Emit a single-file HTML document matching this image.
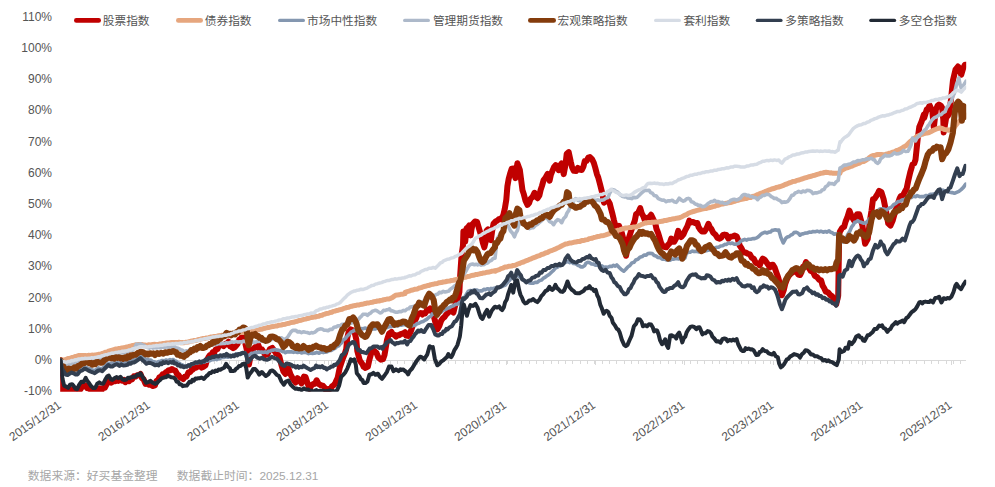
<!DOCTYPE html><html><head><meta charset="utf-8"><title>chart</title><style>html,body{margin:0;padding:0;background:#fff;font-family:"Liberation Sans",sans-serif}svg{display:block}</style></head><body><svg width="995" height="487" viewBox="0 0 995 487">
<rect width="995" height="487" fill="#fff"/>
<path d="M60.0 360.5H966M60.5 360.5v3.5M68.5 360.5v3.5M75.5 360.5v3.5M82.5 360.5v3.5M90.5 360.5v3.5M97.5 360.5v3.5M104.5 360.5v3.5M112.5 360.5v3.5M119.5 360.5v3.5M126.5 360.5v3.5M133.5 360.5v3.5M141.5 360.5v3.5M148.5 360.5v3.5M155.5 360.5v3.5M163.5 360.5v3.5M170.5 360.5v3.5M177.5 360.5v3.5M185.5 360.5v3.5M192.5 360.5v3.5M199.5 360.5v3.5M207.5 360.5v3.5M214.5 360.5v3.5M221.5 360.5v3.5M229.5 360.5v3.5M236.5 360.5v3.5M243.5 360.5v3.5M251.5 360.5v3.5M258.5 360.5v3.5M265.5 360.5v3.5M272.5 360.5v3.5M280.5 360.5v3.5M287.5 360.5v3.5M294.5 360.5v3.5M302.5 360.5v3.5M309.5 360.5v3.5M316.5 360.5v3.5M324.5 360.5v3.5M331.5 360.5v3.5M338.5 360.5v3.5M346.5 360.5v3.5M353.5 360.5v3.5M360.5 360.5v3.5M368.5 360.5v3.5M375.5 360.5v3.5M382.5 360.5v3.5M390.5 360.5v3.5M397.5 360.5v3.5M404.5 360.5v3.5M412.5 360.5v3.5M419.5 360.5v3.5M426.5 360.5v3.5M433.5 360.5v3.5M441.5 360.5v3.5M448.5 360.5v3.5M455.5 360.5v3.5M463.5 360.5v3.5M470.5 360.5v3.5M477.5 360.5v3.5M485.5 360.5v3.5M492.5 360.5v3.5M499.5 360.5v3.5M507.5 360.5v3.5M514.5 360.5v3.5M521.5 360.5v3.5M529.5 360.5v3.5M536.5 360.5v3.5M543.5 360.5v3.5M551.5 360.5v3.5M558.5 360.5v3.5M565.5 360.5v3.5M572.5 360.5v3.5M580.5 360.5v3.5M587.5 360.5v3.5M594.5 360.5v3.5M602.5 360.5v3.5M609.5 360.5v3.5M616.5 360.5v3.5M624.5 360.5v3.5M631.5 360.5v3.5M638.5 360.5v3.5M646.5 360.5v3.5M653.5 360.5v3.5M660.5 360.5v3.5M668.5 360.5v3.5M675.5 360.5v3.5M682.5 360.5v3.5M690.5 360.5v3.5M697.5 360.5v3.5M704.5 360.5v3.5M712.5 360.5v3.5M719.5 360.5v3.5M726.5 360.5v3.5M733.5 360.5v3.5M741.5 360.5v3.5M748.5 360.5v3.5M755.5 360.5v3.5M763.5 360.5v3.5M770.5 360.5v3.5M777.5 360.5v3.5M785.5 360.5v3.5M792.5 360.5v3.5M799.5 360.5v3.5M807.5 360.5v3.5M814.5 360.5v3.5M821.5 360.5v3.5M829.5 360.5v3.5M836.5 360.5v3.5M843.5 360.5v3.5M851.5 360.5v3.5M858.5 360.5v3.5M865.5 360.5v3.5M872.5 360.5v3.5M880.5 360.5v3.5M887.5 360.5v3.5M894.5 360.5v3.5M902.5 360.5v3.5M909.5 360.5v3.5M916.5 360.5v3.5M924.5 360.5v3.5M931.5 360.5v3.5M938.5 360.5v3.5M946.5 360.5v3.5M953.5 360.5v3.5M960.5 360.5v3.5M60.5 360.5v4.5M149.5 360.5v4.5M238.5 360.5v4.5M328.5 360.5v4.5M417.5 360.5v4.5M506.5 360.5v4.5M595.5 360.5v4.5M684.5 360.5v4.5M773.5 360.5v4.5M862.5 360.5v4.5M951.5 360.5v4.5" stroke="#d9d9d9" stroke-width="1" fill="none"/>
<defs><clipPath id="pc"><rect x="60.2" y="17.4" width="906" height="374.4"/></clipPath></defs>
<g clip-path="url(#pc)" fill="none" stroke-linejoin="round" stroke-linecap="round">
<path d="M60.5 360.3L60.8 375.4L61.2 389.3L62.9 390.6L65.1 390.2L66.8 390.6L68.1 389.6L70.1 389.8L71.8 389.6L73.2 391.7L75.1 390.4L76.7 391.4L78.2 389.1L80.2 389.5L82.3 386.3L84.2 385.3L85.7 385.6L87.2 388.3L88.9 388.4L91.0 390.2L93.2 390.2L94.6 390.9L96.9 389.0L98.3 389.7L99.6 388.4L101.8 389.7L103.3 388.0L104.8 387.8L106.3 384.9L108.3 380.5L110.0 381.1L111.3 382.7L113.2 381.3L115.4 381.3L117.2 379.8L118.6 380.8L120.4 379.3L122.0 380.7L123.8 379.9L125.4 382.2L126.8 380.4L129.0 381.3L130.5 379.2L132.0 379.4L133.9 376.3L135.5 376.6L137.1 375.3L139.0 375.3L140.5 374.0L141.9 378.0L143.5 379.2L145.5 383.9L147.0 383.7L149.2 384.8L150.6 384.5L152.5 386.0L155.0 385.3L155.2 383.7L156.6 381.0L158.2 379.8L159.5 377.2L161.2 376.5L162.7 374.3L164.2 374.9L165.8 372.3L167.2 371.7L168.7 370.2L170.2 370.2L171.9 369.0L173.3 370.0L175.3 370.7L177.3 374.5L178.7 375.2L180.3 377.8L181.5 377.7L183.3 379.0L184.7 376.8L186.3 376.8L188.4 372.5L190.1 372.1L191.4 370.2L192.9 369.5L194.4 367.6L196.0 367.8L197.4 366.6L199.2 366.4L200.4 365.2L201.7 367.6L203.4 366.8L205.5 365.3L207.0 360.0L208.5 357.0L210.1 354.9L211.5 354.6L212.9 351.9L214.5 352.1L215.8 349.4L217.5 349.1L218.9 345.9L220.5 345.1L221.9 344.7L223.6 346.0L225.4 343.9L226.6 344.5L228.6 341.6L230.0 346.1L230.1 344.7L231.6 347.1L233.1 348.2L234.5 347.4L236.1 345.7L237.5 343.9L239.1 339.7L240.4 339.1L242.2 336.4L244.2 337.7L245.7 345.1L247.2 351.5L249.0 364.5L250.2 357.7L251.2 350.0L253.2 349.1L255.2 347.0L256.5 347.3L258.3 345.1L260.3 350.0L261.8 349.3L263.3 351.4L265.3 355.0L267.3 354.4L269.8 349.2L272.3 347.9L274.4 350.8L276.0 353.4L277.4 354.0L279.4 356.6L281.4 364.9L283.4 371.5L285.4 374.0L286.9 369.4L288.4 368.2L290.5 374.4L293.0 379.0L295.5 382.5L297.5 378.2L299.5 380.2L301.5 383.4L304.0 376.6L305.5 376.9L307.6 383.5L309.6 388.8L311.6 385.3L313.4 384.0L315.0 383.7L316.6 380.3L318.6 383.9L320.6 385.1L323.1 385.9L325.1 388.2L326.6 391.7L329.1 388.8L330.6 388.8L332.2 386.1L333.9 385.2L335.2 383.1L337.7 377.7L339.7 367.8L342.2 360.2L344.7 354.0L346.2 349.2L347.3 337.9L348.8 331.5L350.8 329.4L352.8 330.3L354.8 333.1L356.3 339.5L357.3 350.9L359.8 360.5L362.3 364.0L363.7 366.8L365.4 367.9L367.9 366.6L369.4 359.7L371.4 352.4L372.6 350.6L374.4 351.0L376.4 352.7L378.4 357.5L381.0 359.7L383.0 359.2L384.5 354.9L385.5 349.3L387.0 340.0L389.0 333.8L391.5 332.0L392.9 334.4L394.5 334.9L396.1 336.6L397.6 335.3L399.2 335.3L400.6 334.1L403.0 333.5L405.0 332.2L406.1 335.6L408.6 335.9L411.1 330.6L413.6 323.0L416.1 318.3L417.6 314.4L419.1 313.6L420.7 313.0L422.2 314.5L423.8 313.0L425.2 313.4L427.2 309.7L428.8 310.5L430.2 308.4L432.7 311.4L434.7 319.9L437.3 329.4L439.3 326.0L441.3 320.3L443.0 318.2L444.3 317.2L446.1 314.6L447.3 313.5L448.8 311.5L450.3 311.5L451.7 311.0L453.4 312.5L455.4 304.6L457.9 298.2L459.4 291.9L460.2 274.9L461.6 254.7L463.0 245.1L463.4 231.4L464.4 236.0L465.2 241.8L465.9 235.3L466.6 228.3L468.1 227.3L469.2 225.4L470.0 230.3L470.7 235.4L471.4 229.8L472.5 224.3L475.0 221.5L477.1 222.0L479.1 228.8L481.2 235.6L482.8 242.7L484.3 247.4L485.8 241.2L486.6 230.6L487.9 229.4L489.4 238.9L490.9 240.1L492.2 230.6L493.5 223.8L495.6 221.4L497.1 220.7L499.3 218.9L501.2 219.2L503.3 215.1L504.8 208.7L506.3 199.7L507.4 186.3L508.7 178.7L510.4 172.6L511.7 168.8L513.4 168.6L515.4 178.1L517.4 163.2L519.8 169.7L522.5 190.3L523.9 194.4L525.5 200.7L527.5 204.9L529.2 202.8L530.5 198.9L532.5 197.0L534.5 192.8L535.8 196.4L537.6 198.2L539.4 195.4L540.6 190.0L542.0 185.9L543.6 180.1L545.4 177.9L547.6 173.8L549.6 180.6L550.9 174.7L552.6 170.4L554.0 167.2L555.7 165.1L557.2 166.4L558.7 170.2L560.3 165.3L561.7 163.4L563.7 174.1L565.5 164.7L566.7 153.8L568.7 152.2L570.8 162.0L572.1 167.4L573.8 170.8L576.1 170.9L577.8 167.9L580.0 169.8L581.8 169.9L583.5 166.4L584.8 160.9L586.6 160.9L588.3 157.6L589.9 157.1L592.2 159.4L593.9 163.1L595.2 167.5L596.9 174.1L598.3 177.7L599.9 183.7L601.9 191.8L604.0 202.7L605.8 200.9L608.0 200.4L609.8 203.7L611.0 208.4L612.5 214.1L614.0 220.4L616.0 228.0L617.3 228.6L619.0 225.9L621.7 232.6L623.7 240.4L624.9 248.8L626.1 255.8L627.3 248.8L628.5 239.1L630.5 232.8L633.1 225.2L634.8 220.6L636.1 214.1L638.2 212.6L640.2 208.1L641.8 213.5L643.2 215.9L645.0 220.8L647.1 217.9L649.1 217.3L651.1 214.8L653.3 219.4L655.1 222.7L656.5 229.0L658.1 232.9L659.9 238.8L661.1 243.0L662.8 246.2L664.1 246.9L666.2 247.3L668.2 244.7L669.8 242.9L671.2 238.7L672.6 241.7L674.2 241.8L676.4 237.8L678.2 230.9L679.9 234.7L681.2 237.0L683.5 234.3L685.3 230.1L687.4 226.3L689.3 220.7L691.2 222.4L693.3 221.9L695.3 223.2L697.3 222.9L698.6 227.1L700.4 229.9L702.1 231.5L704.4 231.6L706.5 228.4L708.4 223.8L710.0 227.5L711.4 228.9L713.2 232.8L715.5 234.7L717.5 238.0L719.5 238.7L721.1 237.7L723.0 234.9L724.5 234.6L726.4 235.0L728.5 238.7L730.6 236.7L732.6 236.4L734.7 235.5L736.6 236.2L738.0 239.6L739.6 245.4L741.4 248.2L743.6 252.5L745.4 252.4L747.6 253.7L749.9 254.3L751.7 257.7L753.8 258.9L755.7 262.8L757.8 263.4L759.7 265.3L761.2 261.4L762.7 258.6L764.5 259.6L766.8 262.8L768.0 264.5L769.8 267.4L771.3 265.0L772.8 264.7L774.7 267.7L776.8 273.7L778.1 277.3L779.8 283.4L781.9 295.3L783.9 289.7L785.3 283.6L786.9 279.4L788.7 275.9L790.9 273.5L793.1 272.0L794.9 271.5L796.9 271.8L798.2 274.6L800.0 275.0L801.5 272.1L803.0 266.8L804.5 266.1L806.0 262.1L807.5 266.3L809.0 268.2L810.7 270.9L813.0 272.0L814.9 275.8L817.1 277.1L819.3 280.0L821.1 280.2L822.6 285.6L824.1 288.0L825.8 291.6L828.1 292.3L830.3 295.1L832.2 296.3L834.0 301.5L836.2 304.2L838.2 295.8L839.2 234.8L839.9 231.6L842.2 227.9L844.1 226.9L845.7 221.3L847.2 217.8L849.4 210.5L851.7 216.5L854.0 220.5L855.5 218.1L857.0 214.3L859.3 214.3L860.7 219.2L862.4 225.5L865.1 243.8L867.7 239.1L870.0 220.3L871.5 210.6L873.0 199.1L874.6 198.8L876.0 196.5L877.5 194.2L879.1 190.9L881.4 192.2L883.6 199.2L885.9 210.5L888.2 223.4L890.5 225.6L892.8 220.3L895.0 212.1L897.3 205.3L899.6 198.4L900.9 195.9L902.6 196.1L904.9 191.7L906.7 188.4L907.9 182.3L910.2 172.4L912.5 164.5L914.3 163.3L915.5 159.7L917.8 137.9L919.3 127.0L921.6 121.5L923.9 114.5L924.2 117.9L926.7 109.5L928.0 108.6L929.7 105.3L932.4 111.7L933.8 127.7L935.9 109.6L937.5 105.8L939.0 104.5L940.7 105.5L942.1 107.6L943.3 119.4L943.7 132.5L946.2 117.5L947.7 115.9L949.2 113.4L950.6 103.0L951.7 92.5L953.0 80.1L955.5 69.7L958.0 66.5L959.6 68.4L961.2 74.8L962.9 69.1L964.9 64.7L966.0 64.7" stroke="#C00000" stroke-width="6.0"/>
<path d="M60.5 360.4L62.9 360.1L65.1 359.6L66.6 359.3L68.1 358.5L70.1 358.3L71.9 357.5L73.5 357.3L75.1 356.6L76.7 356.4L78.6 355.6L80.2 355.4L81.6 355.4L83.2 355.6L85.2 355.6L86.9 355.7L88.3 355.3L90.2 355.5L91.9 355.1L93.8 355.2L95.2 354.9L96.6 354.8L98.4 354.3L100.3 354.3L102.1 353.5L103.5 353.1L105.3 352.3L107.2 351.9L108.8 351.1L110.3 350.6L112.1 350.1L113.6 349.8L115.4 349.1L117.0 349.1L119.0 348.5L120.4 348.4L122.0 347.9L123.7 347.8L125.4 347.3L127.0 347.1L128.7 346.5L130.5 346.2L132.2 345.5L134.0 345.4L135.5 344.8L137.2 344.9L138.6 344.4L140.5 344.4L142.3 344.6L143.6 344.9L145.5 345.1L147.4 345.2L149.0 344.8L150.6 344.9L152.8 344.4L155.0 344.2L155.2 344.7L157.3 344.6L159.2 344.1L161.3 344.0L163.4 343.4L165.2 343.3L167.0 342.9L169.0 342.9L171.4 342.6L173.3 342.5L175.2 342.4L176.9 342.6L178.9 342.3L180.8 342.7L182.2 342.5L184.3 342.7L186.1 342.2L188.1 342.0L190.4 341.3L192.3 341.1L194.2 340.5L196.7 340.3L198.4 339.5L200.4 339.2L202.5 338.6L204.7 338.6L206.6 337.9L208.6 337.7L210.5 337.1L212.2 336.9L214.2 336.5L216.6 336.4L218.8 335.7L220.5 335.6L222.1 335.2L224.5 335.2L226.4 334.7L227.8 334.7L230.0 334.3L231.4 334.1L233.3 333.4L235.1 333.0L237.3 332.7L239.2 332.8L241.0 332.4L243.0 332.4L245.2 332.1L247.1 332.2L248.7 331.9L250.2 332.0L251.6 331.4L253.6 331.2L255.2 330.6L257.5 330.2L259.0 329.6L261.3 329.3L263.2 328.6L265.3 328.2L267.5 327.6L269.1 327.5L271.1 326.8L273.1 326.6L275.4 326.1L277.2 325.9L279.1 325.2L281.3 325.0L283.5 324.4L285.4 324.2L287.4 323.5L289.3 323.2L291.2 322.5L293.4 322.3L295.5 321.6L297.4 321.2L299.5 320.4L301.3 320.2L303.7 319.4L305.5 319.1L307.5 318.4L309.1 318.2L311.2 317.5L313.3 317.2L315.0 316.5L315.1 317.1L316.5 316.5L318.7 316.3L320.1 315.5L322.1 315.2L323.6 314.4L325.1 314.1L326.5 313.4L328.5 313.2L330.2 312.5L331.8 312.2L333.3 311.4L335.2 311.1L336.7 310.4L338.3 310.2L340.2 309.6L342.1 309.2L343.7 308.4L345.2 308.1L347.0 307.4L348.8 307.2L350.3 306.5L351.8 306.3L353.7 305.7L355.3 305.6L356.9 305.0L358.6 305.1L360.3 304.5L362.1 304.3L363.9 303.8L365.4 303.6L366.9 303.0L368.9 303.0L370.4 302.5L372.3 302.3L373.9 301.7L375.4 301.6L377.4 301.0L378.9 301.0L380.5 300.5L382.1 300.3L383.7 299.7L385.5 299.5L386.9 299.0L389.0 299.0L390.5 298.4L392.5 297.5L394.0 296.3L395.5 295.3L397.6 294.9L399.2 294.8L401.4 294.2L403.1 294.2L405.0 293.7L405.1 292.3L407.1 291.6L409.1 291.1L411.1 290.3L412.9 290.0L415.1 289.2L417.3 288.9L419.2 288.0L421.2 287.6L423.3 286.7L425.2 286.3L427.4 285.6L429.0 285.4L430.9 284.6L433.0 284.3L435.2 283.7L437.4 283.4L439.4 282.7L441.3 282.6L443.2 282.0L445.3 281.7L447.3 281.2L449.5 281.1L451.5 280.4L453.4 280.2L455.4 279.7L457.5 279.3L459.6 278.6L461.2 278.3L463.6 277.5L465.4 277.3L467.7 276.5L469.7 276.2L471.4 275.5L473.3 275.3L475.5 274.6L477.5 274.4L479.7 273.8L481.4 273.6L483.6 272.9L485.5 272.7L487.4 272.2L489.5 272.0L491.5 271.3L492.9 271.1L495.0 270.6L495.1 271.3L496.8 270.3L499.3 269.6L501.0 268.6L503.1 268.1L505.1 267.1L507.0 266.9L509.2 266.2L511.4 266.1L513.3 265.4L515.2 265.2L517.3 264.2L519.1 263.7L521.2 262.6L523.5 262.0L525.2 261.1L527.2 260.4L529.3 259.4L531.2 258.8L533.3 257.8L535.3 257.1L537.6 256.2L539.5 255.7L541.5 254.5L543.5 254.0L545.4 253.0L547.7 252.3L549.2 251.3L551.3 250.7L553.7 249.7L555.4 249.1L557.4 248.0L559.4 247.2L561.5 246.0L563.4 245.1L565.5 244.0L567.6 243.7L569.4 243.1L571.6 242.9L573.7 242.3L575.5 242.1L577.7 241.5L579.9 241.4L581.7 240.6L583.9 240.5L585.6 239.9L587.7 239.6L589.7 238.6L591.8 238.3L593.9 237.5L595.7 237.1L597.8 236.5L599.8 236.2L601.6 235.7L603.9 235.4L605.7 234.9L607.9 234.2L609.9 233.3L611.8 232.7L613.8 231.6L615.8 231.0L617.7 230.3L619.9 229.9L622.1 229.0L623.7 228.7L625.8 227.9L627.7 227.9L629.8 227.4L631.7 227.4L633.8 226.9L635.9 226.9L638.0 225.9L639.7 225.4L641.5 224.4L643.1 223.9L645.0 222.8L646.5 222.9L648.4 222.5L650.1 222.6L652.1 222.2L654.3 222.2L655.8 221.9L658.3 221.9L660.1 221.5L662.2 221.3L664.1 220.6L666.0 220.5L668.4 219.8L670.2 219.6L672.0 219.0L674.2 218.8L676.5 218.2L678.2 218.1L680.2 217.5L682.1 216.7L684.3 215.4L686.5 214.6L688.4 213.3L690.3 212.5L692.3 211.8L694.5 211.3L696.2 210.6L698.2 210.1L700.4 209.5L702.1 209.1L704.5 208.5L706.6 208.4L708.7 207.7L710.4 207.5L712.3 206.8L714.4 206.4L716.2 205.5L718.5 205.2L720.5 204.4L722.6 204.1L724.4 203.6L726.4 203.3L728.5 202.7L730.5 202.5L732.8 201.8L734.5 201.4L736.5 200.5L738.5 200.2L740.6 199.4L742.9 199.1L744.8 198.5L746.9 198.4L748.4 197.6L750.7 197.5L752.5 196.4L754.8 195.9L756.8 194.9L758.4 194.3L760.7 193.3L762.8 192.6L764.8 191.7L767.0 191.0L768.6 190.1L770.8 189.4L772.7 188.7L774.7 188.2L776.6 187.4L778.6 187.0L780.8 186.3L782.8 185.7L785.1 184.5L786.9 184.0L789.0 183.0L790.9 182.4L792.8 181.5L795.2 181.3L796.9 180.4L799.1 180.0L801.0 179.2L802.8 178.8L805.0 177.9L806.9 177.5L809.1 176.7L811.0 176.3L813.2 175.5L815.0 175.2L817.3 174.4L819.1 173.9L821.1 173.2L822.9 173.0L824.5 172.5L826.1 172.3L827.6 172.4L829.6 172.9L831.4 172.8L833.2 173.3L835.5 173.2L838.0 173.3L840.0 173.3L840.5 171.0L842.6 169.8L844.1 169.0L845.9 168.1L848.2 167.5L850.2 166.6L852.3 166.0L854.1 165.1L855.9 164.5L857.8 163.6L859.7 163.0L861.3 161.9L863.6 161.5L865.4 160.5L867.6 159.2L869.4 157.5L871.5 156.1L873.6 155.4L875.3 155.2L877.6 154.5L879.3 154.6L881.3 154.4L883.2 154.7L885.2 154.5L887.1 154.0L889.0 153.3L890.9 152.9L892.8 152.2L894.8 151.6L896.3 150.7L898.2 150.0L900.3 149.1L902.3 148.0L904.3 146.6L906.4 145.5L908.6 143.1L911.0 140.9L913.3 139.2L914.9 137.9L917.1 136.3L918.9 135.6L920.9 134.7L923.1 134.0L925.1 133.3L927.0 133.1L929.2 132.5L931.1 131.6L933.2 130.3L935.3 129.5L937.6 128.5L939.9 128.0L942.3 128.5L944.4 129.5L946.6 129.7L949.0 130.3L951.4 129.3L953.5 128.7L955.7 125.4L958.0 122.5L960.4 120.3L962.9 118.4L964.6 116.5L966.0 115.1" stroke="#E6A67E" stroke-width="5.0"/>
<path d="M60.5 360.3L62.0 366.9L63.6 370.1L65.6 372.3L67.4 371.4L69.6 371.8L71.7 371.1L73.6 371.4L75.4 370.8L77.6 371.8L79.6 369.5L81.1 369.1L83.2 367.7L84.7 367.3L86.8 367.6L88.3 368.8L90.2 368.9L92.4 370.1L94.7 370.5L96.3 369.7L98.3 367.9L100.1 368.6L102.3 368.5L104.6 366.8L106.3 364.6L108.3 363.3L110.3 363.4L112.3 363.3L114.4 362.6L116.2 363.0L117.8 362.8L119.4 363.3L121.2 362.6L123.5 362.8L125.4 362.0L127.3 362.2L129.1 361.1L130.5 361.3L132.0 360.0L133.9 359.9L135.5 359.0L138.0 357.1L140.5 355.5L142.5 357.8L143.8 358.1L145.5 359.6L147.0 359.2L148.8 360.1L150.6 360.0L152.8 361.6L155.0 362.0L157.2 363.1L158.4 361.6L160.2 361.5L162.3 360.5L164.2 360.8L166.2 360.0L168.1 360.6L170.0 359.5L171.4 360.3L173.3 359.5L174.5 360.7L176.3 361.3L177.8 362.8L179.3 363.2L181.0 364.6L182.3 364.7L183.6 366.0L185.3 365.9L187.0 366.2L188.4 364.9L190.2 365.1L191.4 364.0L193.2 364.0L195.4 362.7L197.4 363.2L198.7 362.0L200.4 362.5L202.3 361.6L204.1 362.3L205.5 361.1L207.2 361.3L208.5 360.5L209.9 360.7L211.7 359.7L213.5 359.7L214.9 359.1L216.6 359.6L218.5 358.5L220.0 358.6L221.7 357.3L223.6 357.5L225.8 356.7L228.0 357.3L230.0 356.4L231.7 356.3L233.6 354.7L235.1 354.5L236.9 353.7L239.2 354.3L240.7 353.1L242.8 353.4L244.7 352.7L246.7 357.2L248.2 355.5L249.7 355.0L251.2 353.4L253.3 353.4L255.2 352.3L256.7 352.7L258.8 351.9L260.3 352.3L261.6 352.0L263.3 352.5L265.1 351.9L267.3 352.7L268.6 351.3L270.3 351.0L271.6 350.2L273.4 350.1L274.7 349.6L276.4 350.1L277.6 350.0L279.4 350.6L280.8 350.5L282.4 351.6L284.1 351.4L285.4 352.7L287.4 351.7L289.4 351.9L291.5 351.8L293.5 352.4L295.2 351.8L297.5 352.5L299.7 351.9L301.5 352.9L303.3 352.5L305.5 352.5L307.0 352.8L308.6 353.6L310.7 352.9L312.6 353.4L315.0 353.0L315.1 353.1L316.8 352.4L319.1 353.2L321.1 352.1L323.3 352.6L325.1 352.1L326.9 351.9L329.4 350.6L331.2 350.5L333.2 349.2L335.4 348.1L337.2 346.3L338.9 345.7L340.2 344.0L341.8 342.6L343.2 340.0L345.5 338.5L347.3 336.0L349.1 334.4L351.3 331.9L352.8 331.4L354.3 330.1L356.4 330.4L358.3 329.9L359.9 329.7L361.3 328.6L363.1 328.7L365.4 328.0L367.6 329.2L369.4 329.0L371.4 329.4L373.4 328.6L375.4 328.9L377.4 327.8L379.7 328.3L381.3 327.4L383.5 327.7L385.2 326.8L387.3 327.4L389.0 326.3L390.5 326.8L392.5 325.8L393.8 326.2L395.5 325.6L397.3 326.0L399.4 325.0L401.6 325.2L403.1 324.5L405.0 324.7L406.2 325.2L408.1 326.3L409.5 325.5L411.2 326.2L413.1 325.6L415.3 325.2L417.1 323.6L418.9 323.3L421.2 322.0L423.1 321.6L425.2 320.1L427.1 319.1L429.2 317.0L430.9 316.1L432.2 313.9L433.8 314.2L436.0 312.8L437.4 313.6L439.3 312.4L441.4 311.9L443.3 310.0L445.1 309.8L447.3 308.4L449.3 307.8L451.3 306.4L453.5 305.8L455.4 304.4L457.4 304.2L459.4 302.5L461.4 301.7L463.6 298.3L465.4 296.1L466.9 293.4L468.4 291.1L470.4 290.5L471.7 291.1L473.7 290.0L475.5 290.0L477.0 290.0L478.6 291.0L480.5 290.9L482.0 290.9L483.8 289.4L485.5 289.6L487.6 288.7L489.5 289.5L491.0 288.4L492.8 288.8L495.0 288.0L497.1 288.5L498.8 287.0L501.1 287.0L503.3 285.8L505.1 285.3L507.4 282.5L509.1 280.8L511.2 278.1L513.4 277.7L515.3 276.1L517.2 275.4L519.1 276.5L521.2 278.5L523.0 279.4L525.2 281.3L527.5 281.7L529.2 282.9L531.3 283.1L533.4 283.3L535.2 282.3L537.3 282.4L539.1 280.8L541.4 280.1L543.4 278.2L545.1 277.3L547.6 275.4L549.4 274.2L551.7 272.0L553.5 270.4L555.4 268.1L557.5 267.2L559.4 265.4L561.7 265.1L563.8 263.1L565.5 262.4L567.6 261.5L569.8 262.6L571.5 261.9L573.5 263.5L575.8 263.8L577.6 265.2L579.3 265.7L580.7 266.9L582.6 266.9L584.5 265.8L586.0 263.2L587.6 262.3L589.6 262.6L591.5 264.0L593.7 264.1L595.5 265.2L597.7 265.0L599.7 266.3L601.9 265.9L603.5 267.4L605.7 267.0L608.0 267.2L609.8 266.2L611.8 266.4L613.5 265.3L615.2 266.1L616.8 264.9L619.0 267.3L620.8 269.1L622.4 270.3L623.8 271.2L625.8 269.3L627.9 266.9L629.9 265.5L631.9 262.9L634.1 262.2L635.7 260.0L637.9 259.3L639.9 257.2L642.2 256.6L644.0 255.0L646.2 255.1L647.9 253.5L650.0 253.2L652.2 253.5L654.1 255.5L656.0 255.9L657.7 257.4L660.3 257.7L662.1 259.1L664.1 258.9L666.3 259.9L668.1 260.0L670.0 260.3L672.0 259.0L674.1 259.1L676.2 258.6L678.5 259.0L680.7 258.3L682.9 258.7L685.0 258.0L686.3 253.5L688.5 252.2L690.2 252.2L692.3 251.0L694.1 251.6L696.4 251.2L698.4 251.9L700.4 251.4L702.1 251.5L704.6 250.4L706.3 250.8L708.4 250.1L710.2 250.0L712.5 248.5L714.4 248.4L716.5 247.2L718.6 247.2L720.5 246.0L722.6 245.8L724.7 244.4L726.3 244.5L728.5 243.1L730.5 243.6L732.3 243.1L734.4 244.3L736.6 244.1L738.7 243.3L740.9 241.1L742.6 240.2L744.7 239.4L746.6 240.1L748.5 239.2L750.7 239.3L752.7 238.6L754.7 238.6L756.7 237.9L758.4 236.7L760.9 234.2L762.7 233.1L765.0 232.2L766.9 233.0L768.8 232.1L770.5 232.0L772.0 230.4L773.8 230.1L775.5 229.7L777.4 230.4L778.8 230.0L780.8 237.3L783.3 243.0L785.9 238.2L787.4 237.0L789.2 236.5L790.9 235.0L792.3 234.6L794.0 232.6L795.9 232.2L798.1 233.1L800.0 235.2L801.6 234.0L803.1 233.9L805.0 233.1L807.2 233.0L809.2 232.1L811.0 232.3L813.0 231.5L815.3 231.7L817.1 231.1L819.3 231.9L820.8 231.2L823.1 232.2L825.4 231.5L826.8 232.1L829.1 230.9L830.8 232.3L832.2 232.7L834.2 234.3L836.4 233.7L838.2 234.3L839.6 241.6L841.7 242.0L844.1 241.7L846.0 238.5L848.0 234.1L849.8 231.2L851.7 226.8L853.3 224.8L854.8 222.2L856.1 221.9L857.8 220.7L859.3 221.7L860.8 222.1L863.3 223.2L865.4 222.9L867.1 221.9L869.2 219.0L871.2 218.5L873.0 216.2L875.1 214.5L877.2 211.1L879.1 209.6L880.4 208.7L882.1 208.7L884.7 209.3L886.7 210.2L889.0 208.1L891.2 207.4L893.6 204.7L895.8 203.5L897.9 201.6L900.3 201.2L902.1 199.8L903.9 199.9L906.1 198.1L907.9 198.0L909.8 197.0L911.3 197.6L913.1 196.1L915.5 196.7L917.1 195.6L919.6 196.7L921.6 196.5L923.6 196.6L926.2 195.5L927.9 195.9L930.4 194.2L932.3 194.4L934.5 193.8L936.4 194.1L938.3 193.3L940.5 192.5L942.9 190.2L945.1 191.3L947.5 190.9L949.9 192.3L952.0 192.6L954.4 193.3L956.6 192.4L958.9 191.4L961.1 189.6L963.4 187.4L965.7 184.1" stroke="#8497B0" stroke-width="3.6"/>
<path d="M60.5 360.4L62.6 362.3L65.1 363.1L67.0 364.1L68.2 363.4L70.1 364.5L71.6 363.2L73.5 363.6L75.1 362.7L76.7 362.5L78.7 361.1L80.2 361.3L81.6 360.4L83.7 361.1L85.2 360.2L87.3 360.2L89.4 359.7L91.3 359.9L93.1 358.8L95.2 359.5L97.0 358.1L99.0 358.7L101.3 357.4L103.5 357.6L105.3 356.7L107.5 356.8L109.3 355.3L111.4 355.4L113.3 354.5L115.4 354.4L117.5 353.3L119.4 353.6L121.5 352.4L123.4 352.9L125.4 352.2L127.6 352.1L129.6 350.0L131.7 350.5L133.5 349.0L135.0 347.0L136.5 344.1L138.5 344.7L140.5 343.9L142.6 345.1L144.5 345.6L146.1 347.0L147.6 347.5L149.3 348.1L151.3 347.0L152.9 348.1L155.0 347.5L156.9 347.9L158.4 347.2L160.2 347.9L162.2 347.0L164.2 347.5L166.1 346.8L168.4 347.5L170.2 346.6L172.0 347.4L174.3 346.6L176.2 347.9L178.3 348.2L180.6 349.6L182.3 350.2L184.8 352.1L186.4 350.7L188.7 350.7L190.4 349.1L192.5 349.1L194.4 347.8L196.7 348.2L198.2 346.9L200.4 347.0L202.6 346.3L204.6 346.6L206.5 345.2L208.3 345.8L210.5 345.1L212.4 345.3L214.5 344.2L216.7 344.5L218.4 343.6L220.5 343.8L222.7 343.4L224.6 343.5L226.2 342.8L228.0 343.1L230.0 342.5L230.1 342.5L231.9 341.8L233.9 342.3L236.1 341.4L238.0 342.1L240.2 341.7L241.8 342.1L243.4 341.1L245.2 341.5L246.8 342.6L248.2 345.5L250.0 343.6L251.2 342.9L253.5 341.9L255.1 342.5L257.3 341.2L259.1 341.4L261.2 340.3L263.2 341.2L265.3 339.9L267.1 340.4L269.1 339.3L271.3 339.5L273.4 338.7L275.2 339.2L277.3 337.6L279.4 338.1L281.7 337.8L283.4 339.3L285.4 338.9L286.9 338.0L288.4 336.0L291.0 331.9L292.8 330.2L294.5 330.4L295.9 330.4L297.5 331.9L299.5 331.6L301.5 332.6L303.6 331.8L305.5 332.2L307.3 332.5L309.6 333.4L311.5 332.6L313.0 332.9L315.0 332.1L316.1 331.2L318.1 329.4L320.1 328.9L322.2 329.0L324.1 330.2L325.9 330.3L328.1 330.8L330.2 329.2L332.2 329.4L334.0 327.2L336.2 326.9L337.9 325.9L340.2 325.8L341.9 324.3L343.2 324.4L345.2 323.6L347.3 323.7L349.3 322.5L351.4 323.1L353.3 322.1L354.9 321.7L356.8 320.1L358.3 319.7L360.1 317.4L361.3 316.3L362.9 314.4L364.4 314.2L366.0 314.3L367.4 315.3L369.1 313.8L370.4 313.3L372.4 311.2L374.4 310.6L375.9 310.2L377.4 311.1L379.9 312.9L381.8 312.4L383.5 310.4L385.3 310.5L386.5 309.9L387.8 309.8L389.5 308.8L390.9 310.7L392.5 310.9L394.3 311.7L395.5 312.1L397.3 312.2L399.6 311.6L401.5 311.6L403.3 310.4L405.0 310.8L407.1 309.0L408.7 308.8L410.1 307.0L412.0 306.9L414.1 306.1L416.1 305.2L417.8 303.6L419.7 303.5L421.5 301.8L423.3 301.4L425.2 299.9L426.9 299.7L429.1 298.0L430.8 297.9L432.7 296.1L434.2 295.8L436.2 294.5L437.9 294.1L439.3 292.4L441.3 292.6L443.3 291.4L445.0 292.0L447.3 291.4L448.8 291.1L450.3 289.2L452.2 288.0L454.4 286.1L456.7 284.7L458.4 281.5L460.4 280.1L462.3 276.9L463.5 274.9L465.4 272.1L467.4 268.4L469.1 265.6L470.5 264.4L472.6 264.0L474.5 264.8L476.3 264.2L477.7 264.9L479.5 264.1L481.2 265.1L482.5 264.6L484.1 264.6L485.5 263.5L487.6 262.9L489.6 261.1L491.5 260.3L493.1 258.5L495.0 258.3L497.3 238.3L499.1 235.9L501.1 232.5L503.2 230.4L505.6 227.1L507.4 224.4L508.7 227.0L510.4 230.7L512.6 233.2L514.4 236.8L515.8 233.1L517.4 230.5L519.4 222.2L521.5 224.1L523.7 224.5L525.8 226.6L527.8 226.6L529.5 228.7L531.4 227.8L533.5 227.6L535.5 225.3L537.4 224.4L539.7 222.2L541.3 221.0L543.7 218.7L545.6 217.5L547.6 218.8L549.6 221.6L551.8 222.5L553.7 224.7L555.5 221.6L557.7 219.6L559.6 220.4L561.7 222.7L563.5 218.8L565.7 216.5L567.0 213.0L568.7 210.6L570.8 205.2L572.6 203.4L574.0 200.1L575.8 198.5L577.8 200.2L579.8 200.8L582.1 199.9L584.1 200.8L585.7 199.6L588.0 200.9L589.9 200.2L591.9 200.9L593.8 200.0L595.6 200.5L598.2 199.8L599.9 200.6L601.9 200.1L603.7 199.8L606.1 198.1L608.0 197.5L609.8 192.9L612.0 189.5L614.2 189.9L616.0 191.4L617.7 192.2L620.3 194.8L622.1 196.2L624.1 196.9L626.2 196.7L627.8 198.0L630.1 198.2L631.7 198.6L633.8 197.3L635.2 197.8L637.2 197.2L639.0 195.5L641.2 193.2L642.9 191.9L645.0 190.2L647.3 190.5L649.1 190.2L650.6 192.6L652.4 193.2L654.1 195.5L656.4 196.1L658.3 198.6L660.1 199.4L661.9 200.2L664.0 200.1L666.2 201.7L667.9 200.9L670.1 200.9L672.2 200.2L674.0 201.7L676.2 202.4L677.7 200.6L679.2 198.2L681.4 200.2L683.3 201.2L684.7 200.6L686.7 198.7L688.3 198.4L690.0 199.2L691.4 201.8L693.3 202.2L695.2 204.1L696.7 204.2L698.4 205.5L700.2 205.2L702.3 206.7L704.4 206.4L705.9 205.5L708.0 203.6L709.4 202.7L711.1 201.6L713.1 201.6L714.4 200.3L716.2 201.6L718.3 201.5L720.5 202.7L722.6 202.4L724.5 203.6L726.5 203.4L728.4 202.5L730.5 200.5L732.6 199.6L734.3 199.3L736.4 200.0L738.6 199.3L740.2 198.3L742.2 195.7L743.6 194.5L745.4 194.5L747.2 195.6L748.7 195.2L750.0 196.5L752.2 196.5L753.7 197.5L755.9 197.7L757.7 199.7L759.5 197.5L760.9 197.1L762.7 195.2L764.4 195.5L766.3 194.4L767.8 194.4L769.3 194.7L771.3 196.6L772.8 197.3L774.3 198.5L776.1 198.3L777.8 199.6L780.1 200.6L781.9 202.6L783.9 201.9L785.9 202.2L787.9 201.3L789.9 198.6L791.9 195.2L793.4 195.1L795.2 193.0L796.9 192.4L798.7 191.4L801.1 192.4L803.0 191.1L805.2 191.7L806.9 190.4L809.0 190.5L811.0 191.3L813.0 193.6L814.8 192.9L817.0 192.9L819.1 192.1L820.8 191.8L822.2 189.9L824.1 189.5L825.6 186.7L827.7 185.5L829.1 183.2L831.0 183.8L832.4 183.6L834.2 184.5L836.1 181.9L838.2 180.4L840.0 168.1L841.9 167.0L844.1 165.1L846.1 165.1L848.7 164.2L850.9 163.8L853.2 162.1L855.7 161.9L857.8 160.6L860.3 160.7L862.4 159.8L864.7 159.7L866.9 158.9L869.3 158.9L871.5 158.2L873.2 159.6L874.5 159.8L875.7 162.0L877.6 163.4L879.4 161.8L880.6 158.9L882.6 157.3L885.2 155.1L887.2 156.0L889.7 155.9L891.7 155.1L894.3 152.8L896.4 154.0L898.8 153.6L901.4 152.6L903.4 150.4L905.6 151.5L907.9 151.3L909.2 149.0L911.0 145.1L912.5 138.0L913.8 139.1L915.5 140.9L917.0 138.0L918.6 136.4L920.4 134.5L921.6 133.4L924.0 130.6L926.2 128.8L927.9 125.9L929.2 124.3L931.0 121.6L932.3 119.6L934.5 117.6L936.9 116.7L938.9 115.0L941.0 114.8L943.2 112.6L945.1 111.7L946.5 107.8L948.2 105.6L949.6 102.7L951.3 101.3L952.7 96.5L954.4 93.3L956.4 84.8L958.5 79.8L958.8 77.8L960.1 84.7L961.2 87.9L963.7 84.9L966.0 81.2" stroke="#ADB9CA" stroke-width="3.6"/>
<path d="M60.5 360.5L62.5 365.2L64.6 368.4L67.1 370.0L68.7 368.7L70.1 369.8L71.6 368.8L73.1 369.4L74.4 367.4L76.1 368.4L77.9 366.0L79.1 365.8L81.7 363.8L84.2 363.1L86.7 361.5L89.2 363.3L90.4 362.5L92.2 364.6L93.6 363.1L95.2 364.1L96.7 361.6L98.3 362.2L100.3 362.6L102.3 362.6L104.3 360.3L106.3 359.0L108.8 356.9L111.3 358.3L113.1 357.3L114.4 358.6L115.7 357.0L117.4 357.9L118.9 357.3L120.4 358.4L121.9 357.9L123.4 358.8L125.0 357.4L126.4 358.4L127.8 356.3L129.4 357.2L130.8 355.3L132.5 355.7L133.8 354.7L135.5 354.8L138.0 352.8L140.5 351.7L143.0 352.2L145.5 354.3L146.9 353.5L148.6 354.5L150.0 353.3L151.6 353.7L153.3 353.4L155.0 355.0L157.2 353.1L159.3 354.0L161.2 352.8L163.4 353.7L165.2 352.3L167.3 352.7L169.2 351.9L171.1 352.0L173.3 351.0L174.9 352.1L176.3 352.3L177.6 354.8L179.3 354.5L180.6 355.8L182.3 355.9L183.9 356.8L185.3 355.1L186.6 355.0L188.4 353.0L189.8 352.5L191.4 350.1L192.8 350.6L194.4 348.6L196.1 349.5L197.4 347.1L198.9 347.8L200.4 346.0L202.1 348.0L203.4 348.0L205.5 347.2L207.2 345.4L208.5 345.2L210.0 343.8L211.5 343.9L212.9 341.8L214.5 342.4L215.9 340.6L217.5 341.1L219.3 338.5L220.5 338.6L222.3 336.7L224.6 336.3L226.6 332.9L228.2 334.7L230.0 333.8L231.1 335.3L232.9 333.5L235.1 334.4L236.6 332.0L238.1 332.1L239.4 329.6L241.2 329.5L243.1 327.5L244.7 328.0L246.7 329.8L247.7 338.7L248.7 345.2L250.2 338.6L252.2 334.7L253.6 335.0L255.2 334.0L256.5 336.1L258.3 336.1L259.6 337.8L261.3 337.8L262.6 339.6L264.3 340.2L265.9 340.9L267.3 340.5L268.7 339.8L270.3 336.8L272.8 336.5L275.4 337.6L276.6 339.2L278.4 339.4L280.9 342.0L283.4 347.0L285.4 345.3L287.4 341.8L289.4 342.2L291.5 344.0L292.7 346.5L294.5 347.2L296.0 347.9L297.5 345.9L298.8 348.5L300.5 348.0L302.1 348.2L303.5 346.0L305.5 347.7L307.0 348.2L308.6 349.9L309.9 347.9L311.6 348.6L313.3 346.8L315.0 346.6L316.1 345.7L318.1 347.1L320.1 347.4L322.3 348.4L324.1 348.1L326.4 349.6L328.1 348.9L329.6 349.0L331.2 346.9L333.0 347.0L335.2 344.2L336.4 343.7L338.2 341.1L340.2 334.6L342.2 329.7L343.8 328.7L345.2 325.7L347.3 324.6L349.3 319.1L351.3 319.1L353.1 317.4L354.3 318.9L356.3 322.9L358.3 330.4L360.3 332.7L362.0 335.0L363.4 335.7L364.9 336.9L366.4 336.3L368.4 332.6L370.4 327.1L372.9 324.3L375.4 324.7L377.4 324.3L379.9 328.0L382.0 331.7L384.5 326.9L386.5 323.2L388.5 319.5L390.5 319.0L392.5 321.9L394.5 324.8L395.8 323.4L397.6 324.2L398.9 322.9L400.6 322.9L402.8 321.5L405.0 321.7L407.1 323.8L409.6 325.6L411.6 318.8L413.6 314.5L416.1 307.0L417.8 305.8L419.1 302.6L421.7 304.5L424.2 305.8L426.7 298.3L429.2 293.6L431.7 296.0L433.7 300.0L435.2 310.5L436.8 314.9L439.3 311.5L440.9 308.1L442.3 307.2L444.1 304.7L445.3 304.2L446.6 302.2L448.3 301.2L450.1 299.5L451.3 300.4L452.6 297.8L454.4 297.5L455.9 293.5L457.4 288.7L458.9 283.0L460.4 280.7L462.4 269.9L463.9 260.6L466.4 256.8L467.8 254.6L469.4 250.6L470.8 250.6L472.5 248.6L473.9 250.4L475.5 249.4L477.5 252.1L479.5 257.8L480.8 260.7L482.5 262.1L484.1 260.9L485.5 257.7L487.6 254.1L489.2 253.2L490.6 253.2L492.6 250.1L495.0 247.1L495.3 243.1L497.0 243.1L498.9 239.6L500.3 238.7L501.7 233.4L503.4 231.0L505.4 218.0L507.6 216.2L509.4 213.2L511.0 218.4L512.4 222.2L514.4 225.6L515.8 214.2L517.4 208.7L519.4 210.2L520.5 217.5L522.2 219.2L523.5 223.6L525.3 224.5L527.5 226.8L529.8 224.3L531.5 224.7L533.3 222.6L535.5 221.8L537.4 220.2L538.9 220.0L540.6 218.2L542.2 218.1L543.8 215.6L545.6 215.5L547.6 214.9L549.6 216.9L551.9 213.0L553.7 210.5L555.9 208.6L557.7 207.6L559.7 205.6L561.7 204.7L563.8 201.6L565.7 201.4L567.1 192.2L568.7 193.6L569.7 202.9L571.5 205.4L573.8 206.3L575.8 207.8L577.8 207.1L579.8 206.8L581.8 205.2L583.8 204.3L585.8 201.2L587.6 201.7L589.0 199.8L590.9 200.6L592.9 202.4L594.9 205.5L597.0 207.1L598.9 210.6L600.6 214.0L601.9 219.4L604.0 219.5L606.0 221.9L607.7 222.0L609.0 223.5L610.3 225.8L612.0 230.8L614.0 232.3L616.0 235.9L617.9 236.3L620.1 238.6L622.7 244.2L624.1 250.7L625.5 254.2L627.1 250.7L628.5 248.8L629.5 247.7L631.1 243.8L632.7 241.2L634.7 238.1L636.8 236.4L638.3 234.2L639.8 232.9L640.0 231.9L641.8 233.8L643.1 232.1L645.0 233.7L646.9 233.3L649.1 234.5L651.1 233.9L653.3 237.9L655.1 240.7L657.3 246.1L659.1 249.9L661.1 252.6L663.1 253.9L664.9 256.0L666.3 256.2L668.2 258.4L669.7 254.5L671.2 251.5L672.9 252.4L675.2 254.5L677.0 250.4L679.2 248.4L680.8 252.8L682.3 258.7L684.0 254.2L685.3 251.6L687.0 245.7L689.3 242.5L690.7 240.3L692.3 240.3L694.2 241.2L695.8 244.7L697.3 245.1L699.5 249.2L701.4 251.1L703.3 250.3L705.4 247.1L707.5 246.5L709.4 245.1L711.2 248.0L713.4 250.2L715.3 253.1L717.5 253.9L719.6 256.1L721.5 255.8L723.4 255.3L725.5 252.1L727.8 255.5L729.5 257.1L731.3 257.6L733.1 255.6L734.6 255.7L736.6 253.2L738.6 253.4L740.2 256.1L741.6 260.6L743.8 261.4L745.6 264.6L747.4 263.9L748.8 265.9L750.7 266.0L752.8 268.7L754.7 269.3L756.9 272.0L758.7 273.2L760.8 272.7L762.7 270.2L764.5 272.5L766.2 271.2L767.8 273.8L769.9 274.4L771.8 277.8L773.7 279.0L775.8 281.5L777.8 283.6L779.8 286.6L781.6 286.0L782.9 287.5L784.6 282.9L785.9 279.8L787.9 276.1L789.9 273.8L792.2 270.3L793.9 269.4L796.1 268.0L797.9 268.7L799.4 269.4L801.0 271.8L802.3 268.7L804.0 267.8L805.7 264.8L807.0 263.8L808.8 264.6L811.0 267.4L812.9 267.6L815.0 269.7L817.1 268.9L819.1 270.4L820.9 269.4L823.1 270.3L825.2 269.2L827.1 270.3L829.1 269.0L831.4 269.3L833.3 268.4L835.2 268.4L836.4 263.0L838.2 259.5L839.2 234.7L839.9 239.7L842.6 238.4L844.2 240.5L846.4 241.0L847.9 239.9L849.4 235.9L851.7 237.5L854.0 240.6L855.7 237.9L857.0 233.3L858.6 233.5L860.1 231.7L861.4 233.8L863.1 234.4L864.9 236.3L866.2 237.0L867.7 235.4L869.2 232.2L871.5 219.5L873.8 212.9L875.4 213.4L876.8 212.3L879.1 216.7L881.4 211.2L883.6 212.8L885.3 214.6L886.7 217.8L888.2 219.6L889.8 219.3L891.2 216.2L892.7 214.7L894.3 211.7L896.0 211.8L897.3 210.7L899.0 210.3L900.3 208.3L902.1 208.3L903.4 205.3L905.7 204.5L907.9 197.6L909.6 196.0L911.0 192.3L912.3 192.1L914.0 189.4L915.7 188.6L917.1 184.6L919.3 178.7L921.6 173.5L923.9 167.7L925.4 161.9L927.7 154.8L930.0 151.4L932.1 150.9L933.8 148.0L935.2 148.5L936.8 146.6L938.5 147.6L940.6 147.3L942.1 159.2L944.4 154.3L946.2 153.0L948.2 149.7L950.5 142.6L952.8 133.1L954.7 113.0L956.3 104.3L958.3 101.6L959.9 103.5L961.1 112.1L961.9 120.8L962.7 112.0L963.6 105.9L964.4 116.9L965.0 107.4L966.0 112.8" stroke="#843C0C" stroke-width="6.1"/>
<path d="M60.5 360.4L62.7 361.4L65.1 362.0L66.8 362.2L68.7 361.4L70.1 361.5L71.6 360.6L73.3 360.8L75.1 359.8L76.6 359.9L78.3 359.0L80.2 359.0L81.7 358.6L83.8 358.7L85.2 358.3L86.8 358.5L88.8 358.2L90.2 358.2L91.9 357.8L93.5 357.9L95.2 357.5L97.1 357.3L98.6 356.7L100.3 356.5L101.9 355.7L103.5 355.5L105.3 354.8L107.2 354.7L108.5 354.0L110.3 353.7L111.9 353.1L113.5 353.2L115.4 352.6L116.9 352.6L118.9 351.9L120.4 352.0L121.9 351.3L124.0 351.3L125.4 350.9L127.2 350.8L128.8 350.0L130.5 350.0L131.9 349.1L133.7 348.8L135.5 348.1L137.2 348.0L139.1 346.9L140.5 346.8L142.1 346.7L143.7 347.1L145.5 346.8L147.5 347.1L149.0 346.5L150.6 346.6L152.9 346.1L155.0 345.9L156.6 345.5L158.2 345.7L160.2 345.3L162.2 345.3L164.3 344.5L166.0 344.7L168.2 344.0L170.2 344.2L172.5 343.8L174.2 344.0L176.3 343.4L178.1 343.7L180.3 343.1L182.6 343.3L184.4 342.4L186.3 342.7L188.3 341.9L190.4 342.0L192.3 341.4L194.3 341.2L196.3 340.4L198.6 340.4L200.4 339.6L202.6 339.5L204.2 338.8L206.2 338.7L208.7 338.0L210.5 337.8L212.6 337.1L214.4 337.1L216.6 336.5L218.6 336.4L220.5 335.9L222.3 335.9L224.5 335.1L226.5 335.2L228.2 334.6L230.0 334.6L231.6 333.5L233.4 333.1L235.1 332.1L237.4 331.8L239.1 330.9L241.2 330.9L243.0 330.0L245.2 329.7L246.9 328.8L249.2 328.5L251.2 327.5L253.4 327.4L255.2 326.6L257.0 326.3L259.4 325.2L261.1 325.0L263.1 324.0L265.3 323.7L267.3 322.8L269.2 322.7L271.4 321.8L273.3 321.9L275.4 321.1L277.6 320.7L279.5 319.9L281.5 319.8L283.2 318.8L285.4 318.7L287.5 318.0L289.4 317.9L291.7 317.1L293.6 317.1L295.5 316.5L297.5 316.4L299.5 315.7L301.8 315.6L303.7 314.8L305.5 314.6L307.5 313.9L309.2 314.0L311.0 313.0L312.9 313.2L315.0 312.5L315.1 311.6L316.5 310.6L318.2 310.2L320.1 308.9L321.5 309.0L323.5 308.1L325.1 308.1L326.7 307.3L328.4 307.2L330.2 306.4L331.6 306.1L333.8 305.4L335.2 305.1L336.6 304.1L338.5 303.6L340.2 302.5L342.2 300.4L344.1 298.3L345.6 297.1L347.3 295.2L348.6 294.2L350.7 292.6L352.3 291.8L353.9 291.1L355.6 290.9L357.3 290.2L359.0 290.0L361.1 289.2L363.4 289.4L365.4 288.7L367.1 288.1L368.8 287.0L370.4 286.3L372.0 285.4L373.7 285.2L375.4 284.1L377.4 283.7L379.7 283.0L381.5 282.6L383.7 281.6L385.5 281.2L387.8 280.4L389.3 280.4L391.5 279.6L393.2 279.5L394.9 278.8L396.6 279.1L398.6 278.6L400.6 278.5L402.6 277.9L405.0 277.7L405.1 277.2L406.9 276.9L409.4 275.8L411.0 276.0L413.0 275.0L415.1 274.7L417.4 273.3L419.3 273.0L420.9 271.5L422.9 270.7L425.2 269.5L426.9 269.5L429.0 268.3L431.0 268.3L433.2 267.5L435.2 268.2L437.2 266.2L438.5 265.0L440.3 263.0L442.0 262.4L443.6 260.8L445.3 260.2L447.2 259.2L449.0 259.1L451.3 258.0L453.5 257.6L455.5 256.3L457.4 255.7L459.5 254.3L461.4 253.6L463.5 251.1L465.4 249.1L467.6 247.2L469.4 246.0L471.5 244.4L473.4 241.7L475.2 238.5L476.9 237.6L479.1 235.9L481.1 235.1L483.0 233.6L485.2 232.6L487.4 231.3L489.0 230.6L491.3 229.4L493.5 228.7L495.3 227.4L497.4 226.8L499.2 225.6L501.4 225.3L503.1 223.9L505.4 223.6L507.1 222.4L509.5 222.1L511.3 220.7L513.7 220.5L515.4 219.4L517.7 219.1L519.2 218.3L521.4 218.5L523.5 217.6L525.5 217.4L527.6 216.6L529.3 216.5L531.4 215.5L533.5 215.2L535.5 214.3L537.6 213.9L539.6 212.6L541.8 212.3L543.8 210.9L545.6 210.4L547.8 209.3L549.6 209.0L551.4 207.7L553.8 207.3L555.7 206.3L558.0 205.9L559.9 204.7L561.9 204.3L563.4 203.2L565.7 202.7L567.8 201.8L569.7 201.5L571.7 200.4L574.0 200.1L575.8 199.3L577.8 199.3L579.7 198.6L581.8 199.0L583.9 198.3L585.8 198.3L587.8 197.7L589.9 197.5L592.1 196.7L594.0 196.5L595.9 195.8L598.0 195.6L599.8 194.6L602.2 194.6L604.0 193.5L606.0 193.3L607.4 191.7L609.2 190.9L611.0 189.2L612.8 190.5L614.4 191.2L616.0 192.4L618.2 193.1L619.9 194.5L622.1 195.2L624.1 195.4L626.4 194.9L628.4 195.6L630.1 195.2L632.3 194.1L634.3 192.4L636.1 191.4L638.6 190.0L640.6 189.4L642.7 187.9L645.0 187.3L646.5 185.0L648.0 183.4L650.1 183.2L651.9 183.5L654.0 183.1L656.1 183.4L657.9 183.3L659.8 184.0L661.9 183.9L664.1 184.5L665.9 183.7L668.0 184.0L670.4 183.3L672.2 183.4L674.1 182.2L676.1 181.5L678.0 180.0L680.2 179.3L682.3 178.4L684.0 177.8L686.5 176.6L688.6 176.3L690.3 175.2L692.4 175.2L694.5 174.3L696.5 174.3L698.2 173.5L700.4 173.4L702.4 172.6L704.1 172.5L706.4 171.7L708.7 171.7L710.4 171.1L712.3 171.1L714.5 170.2L716.6 170.3L718.3 169.4L720.5 169.3L722.3 168.7L724.3 168.7L726.6 167.8L728.5 168.0L730.5 167.1L732.7 167.1L734.4 166.2L736.6 166.3L738.8 166.4L740.7 167.0L742.6 167.1L744.8 167.0L746.7 166.1L748.6 166.0L750.7 165.1L752.9 165.1L754.8 164.4L756.7 164.3L758.9 162.9L760.5 162.5L762.7 161.2L764.5 161.2L767.1 160.4L768.6 160.7L770.8 160.1L772.6 160.5L774.5 159.9L776.6 160.4L778.8 160.1L780.5 162.0L781.9 163.1L783.2 161.5L784.9 159.2L787.1 158.4L788.9 156.9L790.8 156.3L792.9 155.0L794.9 154.9L797.2 154.0L799.1 153.9L801.0 153.1L803.0 152.8L805.1 152.1L807.1 152.1L808.8 151.4L811.0 151.2L812.9 151.0L815.3 151.3L817.1 150.9L819.2 151.4L821.1 151.1L822.8 151.4L824.9 150.9L827.3 151.3L829.1 151.0L831.2 151.8L832.9 151.6L835.2 152.2L836.9 150.8L838.2 150.1L840.0 141.9L840.5 142.4L842.2 140.0L844.1 137.9L846.7 136.2L848.7 134.8L851.0 131.5L853.2 128.7L855.3 127.0L857.8 125.6L859.4 125.0L861.3 124.7L863.5 123.6L865.4 123.4L867.1 122.2L869.5 121.6L870.8 120.3L873.0 119.6L874.9 118.6L876.6 118.2L878.6 117.1L880.6 116.5L882.4 115.8L884.4 116.0L886.3 115.3L888.2 115.1L890.4 114.2L891.8 113.9L894.1 112.7L895.8 112.3L897.5 111.4L899.6 111.5L901.7 110.5L903.4 110.1L905.1 109.0L907.0 108.7L909.2 107.5L911.0 107.0L913.1 105.9L914.5 105.4L916.5 103.8L918.6 103.3L920.5 102.7L922.4 103.2L924.1 102.4L926.2 102.5L928.1 101.8L929.7 101.6L931.8 100.5L933.8 100.2L935.8 99.5L937.8 99.5L939.3 98.8L941.4 98.8L943.1 97.9L945.1 97.9L947.5 97.0L949.0 96.5L950.5 95.5L951.8 94.4L953.5 92.5L955.0 91.7L956.6 90.2L958.0 90.5L959.4 90.9L961.2 92.1L963.7 89.1L966.0 87.1" stroke="#D6DCE5" stroke-width="3.5"/>
<path d="M60.5 360.1L62.0 368.5L63.6 371.3L65.6 374.5L67.6 375.1L69.6 373.7L71.6 372.5L73.6 373.3L75.6 374.5L77.6 374.4L79.6 371.5L82.2 370.5L84.7 368.7L86.2 369.2L88.2 370.4L90.2 371.4L92.7 372.3L94.7 373.2L96.2 372.0L98.3 370.5L100.3 370.3L102.3 371.2L104.3 369.0L106.3 367.0L108.3 365.0L110.3 366.4L112.3 366.5L114.4 365.1L116.9 364.2L119.4 366.0L121.4 364.4L123.4 365.5L125.4 365.3L127.4 364.9L129.0 363.2L130.5 363.8L132.1 362.6L133.5 362.6L135.5 361.6L138.0 359.8L140.5 358.0L142.5 360.2L144.5 361.8L146.5 363.8L148.6 362.8L150.6 363.0L152.6 363.8L155.0 365.3L157.2 364.7L158.7 365.4L160.2 363.4L161.8 364.2L163.2 362.2L164.5 363.0L166.2 362.0L168.0 363.2L170.2 362.0L171.9 362.8L173.3 361.5L174.5 363.6L176.3 363.5L177.9 365.5L179.3 364.9L180.8 366.6L182.3 366.1L183.9 367.3L185.3 366.5L186.7 366.8L188.4 365.3L189.8 366.0L191.4 363.9L193.2 363.8L195.4 362.3L197.5 362.8L199.4 361.3L201.2 362.6L202.4 361.2L204.0 361.7L205.5 359.5L207.2 359.9L208.5 358.0L210.7 357.9L212.5 356.8L214.2 356.9L216.5 355.9L218.4 356.6L220.5 355.2L222.0 355.9L223.6 355.1L225.2 355.7L226.6 353.8L228.1 355.7L230.0 355.4L231.1 356.7L232.9 355.5L234.1 356.3L235.8 354.5L237.1 355.5L238.6 354.0L240.2 354.2L242.7 352.7L244.7 352.9L246.2 354.7L247.7 362.3L249.2 361.1L251.2 358.5L253.2 356.3L255.2 355.7L257.3 357.7L259.8 358.7L262.3 357.7L264.3 359.4L266.8 359.8L269.3 358.8L271.8 356.7L274.4 358.1L276.9 358.8L279.4 361.8L281.9 364.7L284.4 366.0L286.4 363.5L288.9 364.0L291.5 364.9L292.9 366.4L294.5 366.1L295.9 367.5L297.5 366.2L298.8 367.8L300.5 366.7L302.2 367.3L303.5 365.6L305.5 367.0L308.1 368.6L310.6 369.9L313.1 368.6L315.0 367.7L316.1 365.5L317.4 367.1L319.1 366.5L320.3 367.3L322.1 366.1L323.8 368.0L325.1 367.7L326.7 369.5L328.1 368.3L329.5 367.9L331.2 366.6L332.9 366.4L334.2 364.8L335.5 365.0L337.2 363.5L339.7 360.2L341.7 355.2L344.2 353.7L346.2 350.7L348.3 345.7L349.7 343.8L351.3 343.1L352.5 342.1L354.3 342.3L356.3 347.3L358.3 350.3L359.8 350.0L361.3 352.1L362.7 352.0L364.4 352.6L366.4 353.2L368.4 350.4L369.7 348.5L371.4 348.1L373.7 346.5L375.4 346.6L377.7 346.6L379.4 348.0L381.2 347.1L382.5 348.7L384.1 345.8L385.5 344.7L386.7 342.4L388.5 341.7L390.5 340.0L392.0 342.2L393.5 343.0L395.0 344.4L396.5 342.9L398.3 343.2L400.6 342.3L402.9 342.6L405.0 340.9L407.1 344.5L408.8 341.4L410.4 341.1L412.1 338.2L413.6 336.6L415.1 334.0L416.5 332.7L418.1 330.5L419.5 331.5L421.2 330.1L422.9 331.8L424.2 332.1L426.2 328.6L428.7 324.9L431.2 325.0L433.2 329.1L435.2 334.4L437.3 335.4L438.9 335.6L440.3 333.9L442.1 334.1L443.3 331.6L444.8 331.5L446.3 328.9L447.6 329.6L449.3 327.5L451.8 326.3L454.4 321.9L455.7 321.3L457.4 318.8L459.9 314.3L461.4 305.7L462.9 298.2L464.4 298.9L466.4 297.1L468.4 293.9L470.0 293.8L471.5 291.3L472.9 292.4L474.5 290.6L476.1 293.3L477.5 293.9L480.0 298.0L482.5 298.3L484.5 296.4L486.2 294.5L487.6 294.2L489.3 293.4L490.6 294.9L492.6 292.9L495.0 291.4L497.1 287.3L499.0 287.5L501.1 286.3L502.9 284.7L505.1 281.9L506.8 279.7L508.1 276.2L509.6 275.3L511.2 272.7L512.5 276.8L514.2 279.0L515.6 275.8L517.2 270.1L519.2 273.4L520.9 275.3L522.2 279.4L524.4 280.5L526.2 282.5L528.3 280.7L530.3 280.3L532.5 277.6L534.3 277.3L536.4 275.7L538.3 275.5L540.0 272.6L541.6 272.7L543.4 270.1L545.3 270.1L547.4 268.1L549.2 267.9L551.4 266.0L553.7 265.9L555.4 264.7L557.3 265.5L559.4 263.9L560.7 265.4L562.5 264.8L563.9 263.0L565.5 258.7L567.9 255.3L570.5 259.8L572.4 261.4L574.5 262.1L576.5 262.5L578.6 260.9L580.7 260.8L582.6 258.9L584.4 258.7L586.6 257.0L588.3 257.5L589.6 255.7L591.3 258.2L592.6 258.8L594.3 259.7L595.7 259.1L596.9 262.1L598.7 262.8L599.9 267.5L601.7 270.0L603.5 271.0L605.7 269.8L607.6 272.6L609.7 273.0L611.4 277.3L612.8 278.8L614.4 282.3L615.8 283.1L617.7 285.9L619.8 287.1L621.5 290.7L622.8 292.2L624.2 294.2L625.8 294.2L627.6 292.6L628.9 289.1L630.6 288.0L631.9 285.0L633.5 282.6L634.9 279.2L637.2 277.1L638.9 274.1L640.7 275.8L642.9 276.1L645.2 277.0L647.0 276.0L649.2 276.0L651.0 275.0L653.1 278.3L655.0 278.8L656.6 282.1L658.0 282.9L659.6 286.9L661.1 288.9L662.8 291.2L664.1 292.0L665.5 291.5L667.1 289.2L668.4 289.0L670.1 288.0L672.2 288.1L674.1 286.0L676.2 284.8L678.2 282.1L679.6 285.7L681.2 287.0L683.1 287.3L685.0 285.1L686.3 281.4L688.6 277.8L690.3 275.5L692.5 274.5L694.3 274.7L695.8 274.3L697.7 276.7L699.4 277.3L701.5 278.4L703.4 278.0L705.3 278.2L706.7 275.3L708.4 275.5L710.6 276.8L712.4 279.5L714.6 280.4L716.5 282.7L718.4 282.0L720.5 282.5L722.1 280.7L723.5 281.3L725.5 279.9L727.2 280.8L728.6 279.5L730.5 280.7L732.5 278.7L734.3 279.9L736.6 278.2L738.6 282.4L740.6 284.0L742.3 286.0L743.6 286.2L745.0 286.5L747.3 285.3L748.7 285.5L750.4 285.5L751.9 287.9L753.7 287.3L755.0 290.8L756.7 292.2L758.8 290.9L760.7 287.3L762.2 287.2L763.7 285.3L765.6 286.7L767.2 286.5L768.8 288.6L770.7 287.3L772.8 287.7L775.0 289.6L776.8 293.6L778.1 297.7L779.8 303.9L781.9 309.2L783.9 304.0L785.4 299.7L786.9 297.5L789.2 295.1L790.9 293.5L792.7 291.8L794.9 291.8L796.4 291.3L798.2 294.2L800.0 294.4L802.3 293.0L804.0 289.0L805.5 288.7L807.0 287.4L809.2 290.5L811.0 291.4L812.7 293.3L814.3 292.5L816.1 294.8L817.7 294.2L819.4 296.1L821.1 296.1L822.7 298.2L824.3 297.7L826.1 299.7L827.8 299.5L829.7 301.5L831.1 301.5L832.5 303.2L834.4 303.5L836.2 305.7L838.2 299.1L839.2 275.6L840.5 274.8L842.6 276.7L844.9 270.5L847.2 269.3L849.4 260.7L851.7 266.1L853.3 261.3L854.8 258.6L856.3 256.6L857.8 255.5L859.5 256.6L860.8 259.6L862.4 261.6L863.9 266.3L865.2 263.5L866.9 263.4L868.6 259.8L870.7 258.5L873.0 250.4L875.3 244.9L877.6 247.6L879.3 245.8L880.6 241.5L882.0 244.1L883.6 245.3L885.3 251.2L887.4 254.4L888.8 252.2L890.5 249.0L891.7 247.3L893.5 244.3L894.9 243.4L896.6 240.9L897.8 241.6L899.6 241.5L901.0 240.6L902.6 238.6L904.9 240.4L907.2 233.2L909.5 225.5L911.0 222.2L912.2 222.0L914.0 219.6L916.3 213.2L918.6 206.8L920.2 205.9L921.6 203.9L923.0 204.1L924.7 202.4L926.9 199.2L929.0 196.7L930.7 196.7L932.2 196.3L933.8 198.0L935.2 194.6L936.8 191.9L938.4 189.9L939.9 189.3L942.1 199.1L944.4 192.0L945.9 191.1L947.5 191.5L948.8 188.3L950.5 187.4L952.8 180.9L955.1 174.0L957.3 168.3L959.6 176.2L961.1 174.0L962.7 174.1L965.4 165.8" stroke="#333F50" stroke-width="4.0"/>
<path d="M60.5 360.5L61.2 370.3L62.5 378.8L64.1 385.6L66.1 386.6L68.1 387.8L70.1 384.7L72.1 384.2L73.6 385.8L75.6 388.9L77.1 389.2L79.1 384.8L81.2 381.8L83.7 381.9L85.7 377.9L87.2 380.8L89.2 383.3L91.2 386.3L93.2 388.1L95.2 387.9L97.3 383.7L99.3 382.4L101.3 383.6L103.3 383.7L105.3 379.6L107.3 376.3L108.8 375.6L110.8 379.4L112.3 379.9L114.4 378.3L116.4 377.1L118.4 378.2L120.4 376.8L122.4 379.3L124.4 380.0L126.4 379.5L127.9 377.7L129.4 378.2L130.8 377.3L132.5 377.3L133.8 376.6L135.5 376.8L137.5 374.5L139.1 375.1L140.5 373.3L142.5 376.6L144.5 380.0L146.0 382.8L148.6 381.9L150.6 380.9L152.6 382.7L155.0 383.8L155.2 383.2L156.9 383.3L158.2 381.5L160.2 380.0L161.8 378.2L163.2 377.9L165.0 377.2L166.2 377.2L167.5 375.8L169.2 376.2L171.2 377.3L173.3 377.4L175.3 378.8L176.6 381.8L178.3 381.9L179.6 384.2L181.3 384.5L182.8 386.2L184.3 385.7L186.8 385.6L189.4 381.8L191.1 382.2L192.4 379.9L193.9 380.6L195.4 378.4L197.0 378.7L198.4 378.2L199.8 378.2L201.4 377.6L203.9 378.9L206.5 376.0L207.9 375.0L209.5 373.0L210.8 373.1L212.5 371.3L214.3 371.9L215.5 370.6L217.1 371.1L218.5 369.6L220.3 369.7L221.5 369.0L224.1 367.8L226.1 363.9L228.1 366.9L230.0 368.3L230.6 371.1L233.1 371.0L234.6 370.6L236.1 368.8L237.4 368.1L239.1 365.9L240.6 366.0L242.2 364.3L244.7 363.6L246.2 367.9L247.7 377.6L249.7 373.9L251.7 371.5L253.2 369.0L255.2 369.1L257.3 371.3L259.3 374.6L261.8 372.0L263.8 374.1L265.8 376.0L268.3 374.4L270.3 371.2L272.3 370.5L274.4 371.9L276.9 375.0L278.9 375.8L281.4 381.4L283.9 384.7L285.9 381.6L288.4 380.6L290.5 384.3L293.0 387.0L295.5 388.8L296.8 388.4L298.5 389.3L299.9 389.1L301.5 390.2L304.0 388.4L306.5 389.7L308.3 389.5L309.6 391.7L311.5 390.5L313.3 392.2L315.0 391.2L315.1 390.6L316.4 390.1L318.1 391.3L320.1 390.5L321.6 391.1L323.4 390.6L325.1 391.8L326.4 390.9L328.1 391.1L329.9 390.3L331.2 391.3L333.4 391.0L335.2 391.7L337.2 390.0L339.2 385.4L341.2 376.8L343.2 374.9L345.2 372.5L347.3 368.6L349.3 363.5L350.8 359.4L352.3 360.8L354.3 359.4L355.8 364.8L356.8 373.3L359.3 376.3L361.1 379.5L362.3 379.9L363.6 382.9L365.4 383.1L367.4 381.7L369.4 374.8L371.4 374.3L373.4 372.9L375.4 374.8L377.9 373.7L379.9 376.8L382.0 378.8L384.5 375.5L387.0 371.8L389.0 366.6L391.5 366.4L393.5 371.2L396.0 369.4L398.6 371.1L400.3 369.3L401.6 369.9L403.3 369.5L405.0 371.0L406.6 372.1L408.1 374.3L409.8 370.9L412.1 368.5L414.3 364.7L416.1 361.7L418.4 358.6L420.2 356.7L422.0 357.4L424.2 359.5L425.9 356.6L427.2 354.7L429.6 346.2L431.4 347.5L432.8 347.1L434.8 358.7L437.3 365.3L439.4 363.8L441.3 361.4L443.3 360.3L445.3 358.4L446.7 357.3L448.3 354.0L449.8 356.5L451.3 357.1L452.7 354.5L454.4 350.1L455.7 348.2L457.4 345.1L459.8 336.7L460.2 333.8L461.2 325.5L462.1 314.9L462.9 308.4L463.9 304.7L465.4 310.4L466.9 315.8L468.4 310.3L470.5 305.0L473.0 306.0L475.5 303.9L477.5 307.4L479.5 314.0L480.9 317.6L482.5 319.0L485.0 313.4L487.1 309.9L489.1 316.6L491.6 310.9L493.6 308.2L495.0 306.7L497.1 307.6L499.1 306.4L500.9 309.0L502.1 310.1L503.8 307.5L505.1 302.3L506.8 299.5L508.1 294.2L509.4 290.5L511.2 285.0L513.2 292.6L515.2 282.0L517.2 280.3L519.2 290.3L520.5 294.9L522.2 298.2L523.5 301.5L525.2 303.4L527.2 302.8L529.3 300.4L531.0 300.4L533.3 299.1L535.4 301.1L537.3 302.1L539.5 299.7L541.3 296.1L543.1 294.3L545.4 291.1L547.4 290.1L549.4 286.8L550.9 289.3L552.4 290.0L553.7 288.6L555.4 284.9L557.2 288.3L558.4 289.2L560.5 291.5L562.5 291.9L564.0 290.6L565.5 287.1L567.5 281.5L569.5 286.9L571.8 289.8L573.5 290.9L575.4 293.0L577.6 293.3L579.5 293.2L581.6 292.1L583.7 290.8L585.6 288.3L587.8 288.2L589.6 286.2L591.0 288.6L592.6 288.9L594.0 290.9L595.7 289.9L597.2 295.2L598.7 298.0L600.2 304.4L601.7 308.0L603.7 313.8L604.9 311.6L606.7 310.7L608.3 312.0L609.7 315.9L611.5 317.8L612.8 322.5L614.7 325.1L616.8 328.7L618.2 329.5L619.8 332.7L621.8 339.6L624.2 345.0L625.8 346.2L627.5 344.9L629.5 340.3L631.5 335.9L633.9 326.3L636.0 323.9L637.9 319.3L640.0 319.5L641.7 322.0L643.0 326.3L645.2 325.2L647.0 326.3L648.9 324.3L651.1 324.6L652.7 327.2L654.1 331.4L655.6 330.2L657.1 330.5L658.6 334.5L660.1 340.4L662.1 344.2L663.6 342.3L665.2 339.3L666.5 344.8L668.2 348.0L670.2 335.5L671.9 335.3L673.2 336.3L675.0 336.5L676.2 338.6L677.6 334.5L679.2 332.6L680.6 336.4L682.3 342.4L683.6 338.5L685.3 336.6L686.7 332.2L688.3 329.4L690.3 326.9L692.3 326.4L694.1 326.9L696.3 329.2L697.8 327.4L699.4 327.2L700.6 329.7L702.4 334.4L703.6 333.2L705.4 333.3L707.6 331.1L709.4 331.7L711.0 333.3L712.4 336.6L714.3 338.5L716.5 341.5L718.6 341.3L720.5 342.7L722.4 339.2L724.5 338.5L726.0 338.9L727.5 341.3L729.5 339.9L731.5 340.7L733.0 339.6L734.7 340.4L736.6 339.0L738.1 344.0L739.6 347.0L741.2 350.1L742.6 350.9L744.2 350.9L745.6 348.2L747.1 349.1L748.7 348.5L750.7 349.5L752.1 349.3L753.7 350.4L756.3 355.1L758.2 354.8L759.7 352.0L761.0 351.6L762.7 349.2L764.8 351.0L766.8 351.3L768.7 353.4L770.8 354.1L772.4 354.6L773.8 352.9L775.8 356.2L777.8 357.2L779.1 363.4L780.8 367.3L782.1 366.6L783.9 364.4L785.2 362.3L786.9 359.3L788.4 358.8L790.4 356.3L791.9 355.7L794.1 354.1L795.9 354.6L798.1 355.3L800.0 357.6L801.9 354.3L804.0 352.4L805.4 350.3L807.0 350.4L808.8 351.6L811.0 354.4L812.8 354.5L815.1 356.3L817.1 356.2L819.3 357.6L821.1 358.1L823.0 360.5L825.1 360.0L827.0 361.2L828.3 360.3L830.1 361.6L832.2 362.1L834.2 363.5L836.8 365.2L838.8 359.6L839.6 349.3L839.9 349.7L841.8 352.0L844.1 351.0L845.6 347.7L847.9 348.7L849.4 342.1L851.7 344.1L854.0 341.3L856.3 336.4L858.6 335.2L859.9 337.2L861.6 337.6L863.2 340.5L864.6 340.9L865.9 338.6L867.7 335.2L869.3 335.0L871.5 333.1L872.7 332.0L874.5 329.1L876.8 328.9L879.1 325.5L880.6 326.1L882.1 325.4L883.4 327.9L885.2 328.6L887.4 331.8L888.9 329.8L890.5 328.9L892.1 325.8L893.5 324.6L895.8 322.2L897.2 323.6L898.8 322.3L901.1 321.5L902.8 320.5L904.1 322.2L906.4 318.0L908.1 317.0L909.5 314.9L911.7 312.1L914.0 310.5L915.4 309.3L917.1 306.6L919.3 302.4L920.7 302.0L922.4 303.3L923.7 301.9L925.4 301.6L927.7 302.1L929.5 302.0L930.7 300.6L933.0 302.4L935.3 297.9L937.2 297.8L939.1 296.8L941.4 302.5L943.7 298.2L945.8 299.0L947.5 298.1L949.6 298.4L951.3 296.8L953.5 292.0L955.4 285.7L956.6 283.9L958.9 287.3L961.1 289.1L963.4 284.9L965.4 281.7" stroke="#222A35" stroke-width="4.0"/>
</g>
<g font-family="&quot;Liberation Sans&quot;, sans-serif" font-size="12" fill="#555555" text-anchor="end">
<text x="52" y="395.09">-10%</text>
<text x="52" y="363.9">0%</text>
<text x="52" y="332.71">10%</text>
<text x="52" y="301.52">20%</text>
<text x="52" y="270.33">30%</text>
<text x="52" y="239.14">40%</text>
<text x="52" y="207.95">50%</text>
<text x="52" y="176.76">60%</text>
<text x="52" y="145.57">70%</text>
<text x="52" y="114.38">80%</text>
<text x="52" y="83.19">90%</text>
<text x="52" y="52">100%</text>
<text x="52" y="20.81">110%</text>
</g>
<g font-family="&quot;Liberation Sans&quot;, sans-serif" font-size="12" fill="#555555" text-anchor="end">
<text x="-2" y="0" transform="translate(63.50 405.8) rotate(-35)">2015/12/31</text>
<text x="-2" y="0" transform="translate(152.58 405.8) rotate(-35)">2016/12/31</text>
<text x="-2" y="0" transform="translate(241.66 405.8) rotate(-35)">2017/12/31</text>
<text x="-2" y="0" transform="translate(330.74 405.8) rotate(-35)">2018/12/31</text>
<text x="-2" y="0" transform="translate(419.82 405.8) rotate(-35)">2019/12/31</text>
<text x="-2" y="0" transform="translate(508.90 405.8) rotate(-35)">2020/12/31</text>
<text x="-2" y="0" transform="translate(597.98 405.8) rotate(-35)">2021/12/31</text>
<text x="-2" y="0" transform="translate(687.06 405.8) rotate(-35)">2022/12/31</text>
<text x="-2" y="0" transform="translate(776.14 405.8) rotate(-35)">2023/12/31</text>
<text x="-2" y="0" transform="translate(865.22 405.8) rotate(-35)">2024/12/31</text>
<text x="-2" y="0" transform="translate(954.30 405.8) rotate(-35)">2025/12/31</text>
</g>
<path d="M76.30 20.4H98.70" stroke="#C00000" stroke-width="4.6" stroke-linecap="round"/>
<path d="M178.30 20.4H200.70" stroke="#E6A67E" stroke-width="4.6" stroke-linecap="round"/>
<path d="M279.70 20.4H303.30" stroke="#8497B0" stroke-width="3.4" stroke-linecap="round"/>
<path d="M404.70 20.4H428.30" stroke="#ADB9CA" stroke-width="3.4" stroke-linecap="round"/>
<path d="M530.30 20.4H553.70" stroke="#843C0C" stroke-width="4.6" stroke-linecap="round"/>
<path d="M655.70 20.4H679.30" stroke="#D6DCE5" stroke-width="3.4" stroke-linecap="round"/>
<path d="M757.40 20.4H780.90" stroke="#333F50" stroke-width="3.4" stroke-linecap="round"/>
<path d="M870.90 20.4H894.50" stroke="#222A35" stroke-width="3.4" stroke-linecap="round"/>
<g font-family="&quot;Liberation Sans&quot;, &quot;Noto Sans CJK SC&quot;, sans-serif" font-size="11.7" fill="#555555">
<text x="102.8" y="25">股票指数</text>
<text x="204.8" y="25">债券指数</text>
<text x="307" y="25">市场中性指数</text>
<text x="432.9" y="25">管理期货指数</text>
<text x="557.6" y="25">宏观策略指数</text>
<text x="683.4" y="25">套利指数</text>
<text x="785.3" y="25">多策略指数</text>
<text x="898.8" y="25">多空仓指数</text>
</g>
<g font-family="&quot;Liberation Sans&quot;, &quot;Noto Sans CJK SC&quot;, sans-serif" font-size="11.8" fill="#a6a6a6">
<text x="27.8" y="480">数据来源：好买基金整理</text>
<text x="176.8" y="480">数据截止时间：2025.12.31</text>
</g>
</svg></body></html>
